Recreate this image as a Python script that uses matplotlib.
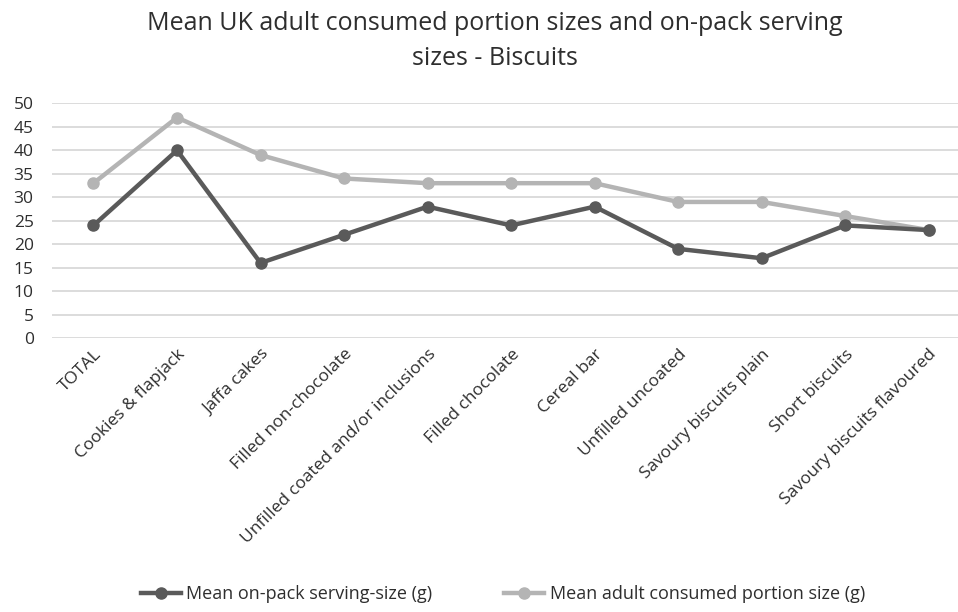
import matplotlib.pyplot as plt

categories = ["TOTAL", "Cookies & flapjack", "Jaffa cakes", "Filled non-chocolate",
              "Unfilled coated and/or inclusions", "Filled chocolate", "Cereal bar",
              "Unfilled uncoated", "Savoury biscuits plain", "Short biscuits",
              "Savoury biscuits flavoured"]
on_pack = [24, 40, 16, 22, 28, 24, 28, 19, 17, 24, 23]
consumed = [33, 47, 39, 34, 33, 33, 33, 29, 29, 26, 23]

plt.rcParams['font.family'] = ['Open Sans', 'DejaVu Sans']

fig = plt.figure(figsize=(9.58, 6.12), dpi=100)
ax = fig.add_axes([0.054, 0.4477, 0.946, 0.3833])

x = list(range(len(categories)))
ax.plot(x, on_pack, color='#5a5a5a', lw=3.2, marker='o', ms=8,
        label='Mean on-pack serving-size (g)', zorder=3)
ax.plot(x, consumed, color='#b4b4b4', lw=3.2, marker='o', ms=8,
        label='Mean adult consumed portion size (g)', zorder=2)

ax.set_ylim(0, 50)
ax.set_xlim(-0.5, 10.35)
ax.set_yticks(range(0, 51, 5))
ax.set_xticks(x)
ax.set_xticklabels(categories, rotation=45, ha='right', rotation_mode='anchor',
                   fontsize=12.5, color='#2e2e2e')
ax.tick_params(axis='y', labelsize=12.5, colors='#2e2e2e', length=0, pad=13)
ax.tick_params(axis='x', length=0, pad=6)
ax.grid(axis='y', color='#d9d9d9', lw=1.3)
ax.set_axisbelow(True)
for s in ax.spines.values():
    s.set_visible(False)

fig.suptitle("Mean UK adult consumed portion sizes and on-pack serving\nsizes - Biscuits",
             x=0.517, y=0.982, fontsize=18, color='#2e2e2e', linespacing=1.55)

fig.legend(loc='lower center', bbox_to_anchor=(0.525, -0.012), ncol=2, frameon=False,
           fontsize=13, handlelength=2.2, handletextpad=0.3, columnspacing=4,
           labelcolor='#2e2e2e')

fig.savefig('out.png', dpi=100)
